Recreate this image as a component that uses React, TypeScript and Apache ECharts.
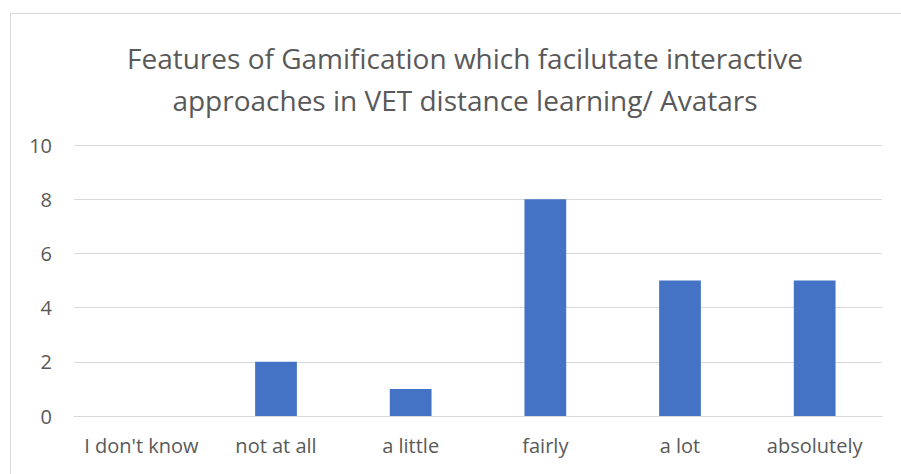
import React, { useEffect, useRef } from "react";
import * as echarts from "echarts";

const categories = ["I don't know", "not at all", "a little", "fairly", "a lot", "absolutely"];
const values = [0, 2, 1, 8, 5, 5];
const titleText = "Features of Gamification which facilutate interactive\napproaches in VET distance learning/ Avatars";

export default function App() {
  const ref = useRef<HTMLDivElement>(null);
  useEffect(() => {
    const chart = echarts.init(ref.current!, null, { renderer: "svg" });
    chart.setOption({
      animation: false,
      backgroundColor: "#ffffff",
      graphic: [
        {
          type: "rect",
          shape: { x: 10.5, y: 13.5, width: 1000, height: 1000 },
          style: { fill: "none", stroke: "#d9d9d9", lineWidth: 1 },
          silent: true,
        },
      ],
      title: {
        text: titleText,
        left: 460,
        textAlign: "center",
        top: 32,
        textStyle: {
          fontFamily: "Open Sans",
          fontSize: 28,
          fontWeight: "normal",
          color: "#595959",
          lineHeight: 42,
        },
      },
      grid: { left: 74, right: 19, top: 145, bottom: 58 },
      xAxis: {
        type: "category",
        data: categories,
        axisLine: { lineStyle: { color: "#d9d9d9", width: 1 } },
        axisTick: { show: false },
        axisLabel: { color: "#595959", fontSize: 20, fontFamily: "Open Sans", margin: 19, interval: 0 },
      },
      yAxis: {
        type: "value",
        min: 0,
        max: 10,
        interval: 2,
        axisLine: { show: false },
        axisTick: { show: false },
        splitLine: { lineStyle: { color: "#d9d9d9", width: 1 } },
        axisLabel: { color: "#595959", fontSize: 20, fontFamily: "Open Sans", margin: 22 },
      },
      series: [
        {
          type: "bar",
          data: values,
          barWidth: "31%",
          itemStyle: { color: "#4472c4" },
        },
      ],
    });
    return () => chart.dispose();
  }, []);
  return (
    <div
      ref={ref}
      style={{ position: "fixed", left: 0, top: 0, width: 901, height: 474 }}
    />
  );
}
